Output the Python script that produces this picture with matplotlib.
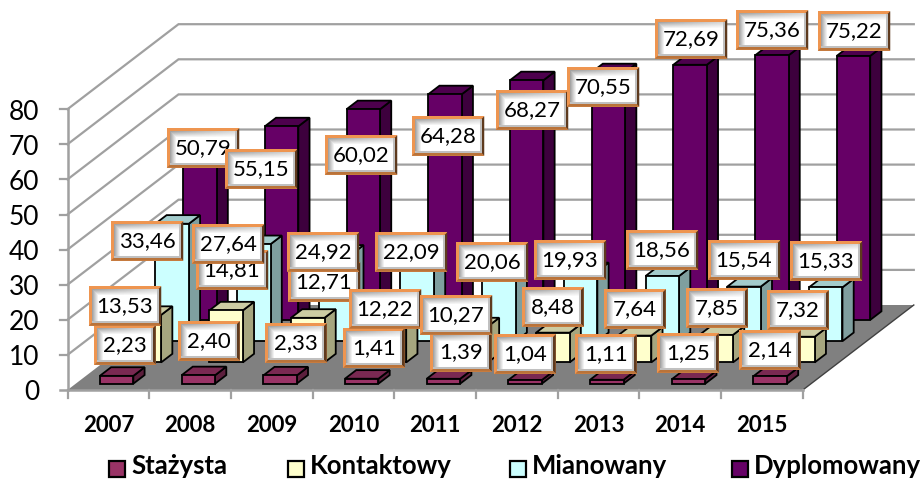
import matplotlib
matplotlib.use('Agg')
import matplotlib.pyplot as plt
from matplotlib.patches import Polygon, Rectangle
import numpy as np

plt.rcParams['font.family'] = ['Lato', 'DejaVu Sans']

# --- data
years = ['2007', '2008', '2009', '2010', '2011', '2012', '2013', '2014', '2015']
series_names = ['Stażysta', 'Kontaktowy', 'Mianowany', 'Dyplomowany']
stazysta = [2.23, 2.40, 2.33, 1.41, 1.39, 1.04, 1.11, 1.25, 2.14]
kontaktowy = [13.53, 14.81, 12.71, 12.22, 10.27, 8.48, 7.64, 7.85, 7.32]
mianowany = [33.46, 27.64, 24.92, 22.09, 20.06, 19.93, 18.56, 15.54, 15.33]
dyplomowany = [50.79, 55.15, 60.02, 64.28, 68.27, 70.55, 72.69, 75.36, 75.22]
y_ticks = [0, 10, 20, 30, 40, 50, 60, 70, 80]

# label box centres, hand placed in the original chart (pixels)
stazysta_lab = [(125, 345), (209, 341), (296, 343), (374, 348), (461, 352), (525, 354), (606, 354), (688, 353), (770, 350)]
kontaktowy_lab = [(125, 306), (232, 270), (324, 282), (385, 309), (456, 315), (553, 307), (635, 309), (717, 308), (798, 310)]
mianowany_lab = [(147, 241), (228, 244), (323, 252), (411, 252), (492, 262), (570, 260), (662, 250), (744, 260), (826, 261)]
dyplomowany_lab = [(203, 148), (261, 169), (361, 155), (448, 136), (532, 110), (603, 87), (691, 39), (772, 30), (854, 31)]

# front, top, side colours
colors_3d = [('#993366', '#7A2952', '#5C1F3D'),
             ('#FFFFCC', '#CCCCA3', '#A6A67F'),
             ('#CCFFFF', '#A3CCCC', '#7F9F9F'),
             ('#660066', '#4D004D', '#3D003D')]

# --- geometry of the oblique projection (pixels)
X0, Y0 = 67.5, 390.0        # front left corner of the floor
CAT_W = 81.7
PX_PER_UNIT = 3.51
DEPTH_X, DEPTH_Y = 111.0, 85.0
BAR_W = 33.5
BAR_D = 0.405               # bar depth as part of one row
GRID = '#A0A0A0'


def project(cat, row, value):
    # cat in categories, row in depth rows, value in data units
    d = row / 4.0
    return (X0 + cat * CAT_W + d * DEPTH_X, Y0 - d * DEPTH_Y - value * PX_PER_UNIT)


def draw_bar(ax, i, row, value, cols):
    off = (CAT_W - BAR_W) / 2 / CAT_W
    w = BAR_W / CAT_W
    r0 = row + (1 - BAR_D) / 2
    r1 = r0 + BAR_D
    c0 = i + off
    c1 = c0 + w
    front = [project(c0, r0, 0), project(c1, r0, 0), project(c1, r0, value), project(c0, r0, value)]
    top = [project(c0, r0, value), project(c1, r0, value), project(c1, r1, value), project(c0, r1, value)]
    side = [project(c1, r0, 0), project(c1, r1, 0), project(c1, r1, value), project(c1, r0, value)]
    for pts, col in zip((side, top, front), (cols[2], cols[1], cols[0])):
        ax.add_patch(Polygon(pts, closed=True, facecolor=col, edgecolor='black', lw=1.3, joinstyle='miter', zorder=3))


def draw_label(ax, cx, cy, txt, z):
    # the box follows the text, so one digit values are narrower
    w = 61.5 if len(txt) == 4 else 72.5
    h = 39.5
    f = 3.0
    x0, x1, y0, y1 = cx - w / 2, cx + w / 2, cy - h / 2, cy + h / 2
    # orange frame, darker on the right and bottom
    ax.add_patch(Rectangle((x0, y0), w, h, facecolor='#EE9550', edgecolor='none', zorder=z))
    ax.add_patch(Polygon([(x1, y0), (x1, y1), (x1 - f, y1 - f), (x1 - f, y0 + f)],
                         facecolor='#5E3A1E', edgecolor='none', zorder=z))
    ax.add_patch(Polygon([(x0, y1), (x1, y1), (x1 - f, y1 - f), (x0 + f, y1 - f)],
                         facecolor='#B9733A', edgecolor='none', zorder=z))
    # inner bevel, grey at the top left, white in the middle
    ix0, ix1, iy0, iy1 = x0 + f, x1 - f, y0 + f, y1 - f
    px, py = np.meshgrid(np.arange(ix1 - ix0), np.arange(iy1 - iy0))
    edge = np.clip(np.minimum(px, py) / 6.0, 0, 1)
    img = 1 - 0.36 * (1 - edge) * (1 - 0.6 * px / px.max())
    img[-2:, :] = 0.75
    img[:, -2:] = 0.75
    ax.imshow(img, cmap='gray', vmin=0, vmax=1, aspect='auto', extent=(ix0, ix1, iy1, iy0),
              interpolation='bilinear', zorder=z + 0.1)
    ax.text(cx, cy + 0.5, txt, fontsize=16, ha='center', va='center', color='black', zorder=z + 0.2)


fig = plt.figure(figsize=(9.24, 4.79), dpi=100, facecolor='white')
ax = fig.add_axes([0, 0, 1, 1])
ax.set_xlim(0, 924)
ax.set_ylim(479, 0)
ax.axis('off')

# walls
n = len(years)
for t in y_ticks[1:]:
    xa, ya = project(0, 0, t)
    xb, yb = project(0, 4, t)
    xc, yc = project(n, 4, t)
    ax.plot([xa, xb, xc], [ya, yb, yc], color=GRID, lw=1.6, solid_joinstyle='miter', zorder=1)
    ax.plot([xa - 8, xa], [ya, ya], color=GRID, lw=1.6, zorder=1)
    ax.text(39.5, ya + 3, str(t), fontsize=19, ha='right', va='center')

# floor
floor = [project(0, 0, 0), project(n, 0, 0), project(n, 4, 0), project(0, 4, 0)]
ax.add_patch(Polygon(floor, facecolor='#808080', edgecolor='none', zorder=2))
ax.plot([floor[1][0], floor[2][0]], [floor[1][1], floor[2][1]], color='#404040', lw=1.0, zorder=2)

# axes lines
ax.plot([X0, X0], [project(0, 0, 80)[1], Y0], color=GRID, lw=1.8, zorder=2)
ax.plot([X0 - 8, X0 + n * CAT_W], [Y0, Y0], color=GRID, lw=1.8, zorder=2)
for i in range(n + 1):
    ax.plot([X0 + i * CAT_W] * 2, [Y0, Y0 + 8], color=GRID, lw=1.6, zorder=2)
ax.text(39.5, Y0 + 3, str(y_ticks[0]), fontsize=19, ha='right', va='center')

# bars, back row first
all_series = [stazysta, kontaktowy, mianowany, dyplomowany]
for row in (3, 2, 1, 0):
    for i in range(n):
        draw_bar(ax, i, row, all_series[row][i], colors_3d[row])

# value labels, later series on top
all_labs = [stazysta_lab, kontaktowy_lab, mianowany_lab, dyplomowany_lab]
z = 10
for vals, labs in zip(all_series, all_labs):
    for v, (cx, cy) in zip(vals, labs):
        draw_label(ax, cx, cy, f'{v:.2f}'.replace('.', ','), z)
        z += 1

# category labels
for i, y in enumerate(years):
    ax.text(X0 + (i + 0.5) * CAT_W, 425, y, fontsize=16, weight='bold', ha='center', va='center')

# legend
leg_x = [108, 287, 509, 731]
for x, name, cols in zip(leg_x, series_names, colors_3d):
    ax.add_patch(Rectangle((x + 0.5, 461), 16, 16, facecolor=cols[0], edgecolor='black', lw=1.6))
    ax.text(x + 23, 466.5, name, fontsize=18.5, weight='bold', ha='left', va='center')

ax.set_xlim(0, 924)
ax.set_ylim(479, 0)
fig.savefig('out.png', dpi=100, facecolor='white')
